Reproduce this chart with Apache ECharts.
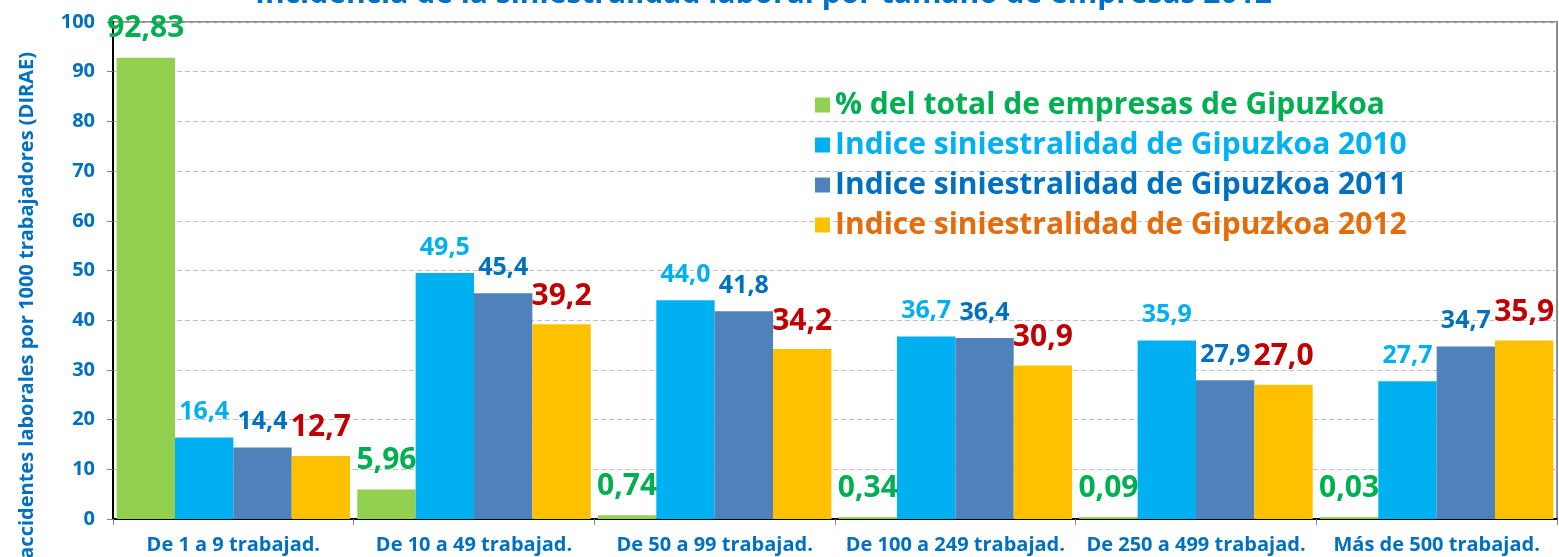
<!DOCTYPE html>
<html>
<head>
<meta charset="utf-8">
<script src="https://cdn.jsdelivr.net/npm/echarts@6/dist/echarts.min.js"></script>
<style>
html,body{margin:0;padding:0;background:#fff;}
#chart{width:1559px;height:557px;}
</style>
</head>
<body>
<div id="chart"></div>
<script>
const titleText = 'Incidencia de la siniestralidad laboral por tamaño de empresas 2012';
const yAxisTitle = 'accidentes laborales por 1000 trabajadores (DIRAE)';
const categories = ['De 1 a 9 trabajad.', 'De 10 a 49 trabajad.', 'De 50 a 99 trabajad.', 'De 100 a 249 trabajad.', 'De 250 a 499 trabajad.', 'Más de 500 trabajad.'];
const seriesNames = ['% del total de empresas de Gipuzkoa', 'Indice siniestralidad de Gipuzkoa 2010', 'Indice siniestralidad de Gipuzkoa 2011', 'Indice siniestralidad de Gipuzkoa 2012'];
const pctEmpresas = [92.83, 5.96, 0.74, 0.34, 0.09, 0.03];
const indice2010 = [16.4, 49.5, 44.0, 36.7, 35.9, 27.7];
const indice2011 = [14.4, 45.4, 41.8, 36.4, 27.9, 34.7];
const indice2012 = [12.7, 39.2, 34.2, 30.9, 27.0, 35.9];
const yTicks = [0, 10, 20, 30, 40, 50, 60, 70, 80, 90, 100];

const FONT = 'Open Sans';
const barColors = ['#92D050', '#00B0F0', '#4F81BD', '#FFC000'];
const labelColors = ['#00B050', '#00B0F0', '#0070C0', '#C00000'];
const legendTextColors = ['#00B050', '#00B0F0', '#0070C0', '#E46C0A'];
const labelSizes = [30, 25, 25, 30];
const labelDecimals = [2, 1, 1, 1];
const dataSets = [pctEmpresas, indice2010, indice2011, indice2012];

const chart = echarts.init(document.getElementById('chart'), null, {renderer: 'canvas'});

const series = dataSets.map((d, i) => ({
  name: seriesNames[i],
  type: 'bar',
  data: d,
  barGap: '0%',
  barCategoryGap: '3%',
  barMinHeight: i === 0 ? 2 : 0,
  itemStyle: {color: barColors[i]},
  label: {
    show: true,
    position: 'top',
    distance: i === 0 ? 14 : 13,
    color: labelColors[i],
    fontFamily: FONT,
    fontWeight: 'bold',
    fontSize: labelSizes[i],
    formatter: p => p.value.toFixed(labelDecimals[i]).replace('.', ',')
  },
  z: 3
}));

chart.setOption({
  animation: false,
  backgroundColor: '#ffffff',
  title: {
    text: titleText,
    left: 255,
    top: -21,
    padding: 0,
    textStyle: {color: '#0070C0', fontFamily: FONT, fontWeight: 'bold', fontSize: 30}
  },
  legend: {
    orient: 'vertical',
    left: 810,
    top: 85,
    itemWidth: 15,
    itemHeight: 15,
    itemGap: 10,
    icon: 'rect',
    textStyle: {fontFamily: FONT, fontWeight: 'bold', fontSize: 30},
    data: seriesNames.map((n, i) => ({name: n, textStyle: {color: legendTextColors[i]}}))
  },
  grid: {
    left: 113, right: 2, top: 22, bottom: 38,
    show: true, borderColor: '#8C8C8C', borderWidth: 2, backgroundColor: 'transparent'
  },
  graphic: [{
    type: 'text',
    x: 27, y: 52,
    rotation: Math.PI / 2,
    style: {
      text: yAxisTitle,
      align: 'right',
      verticalAlign: 'middle',
      fill: '#0070C0',
      font: 'bold 20px "Open Sans"'
    }
  }],
  xAxis: {
    type: 'category',
    data: categories,
    axisLine: {lineStyle: {color: '#000', width: 2}},
    axisTick: {show: true, length: 6, lineStyle: {color: '#808080'}},
    axisLabel: {color: '#0070C0', fontFamily: FONT, fontWeight: 'bold', fontSize: 20, margin: 16, interval: 0}
  },
  yAxis: {
    type: 'value',
    min: yTicks[0],
    max: yTicks[yTicks.length - 1],
    interval: 10,
    axisLine: {show: true, lineStyle: {color: '#000', width: 2}},
    axisTick: {show: true, length: 6, lineStyle: {color: '#808080'}},
    axisLabel: {color: '#0070C0', fontFamily: FONT, fontWeight: 'bold', fontSize: 20, margin: 18},
    splitLine: {show: true, lineStyle: {color: '#C0C0C0', type: [5, 3], width: 1}}
  },
  series: series
});
</script>
</body>
</html>
